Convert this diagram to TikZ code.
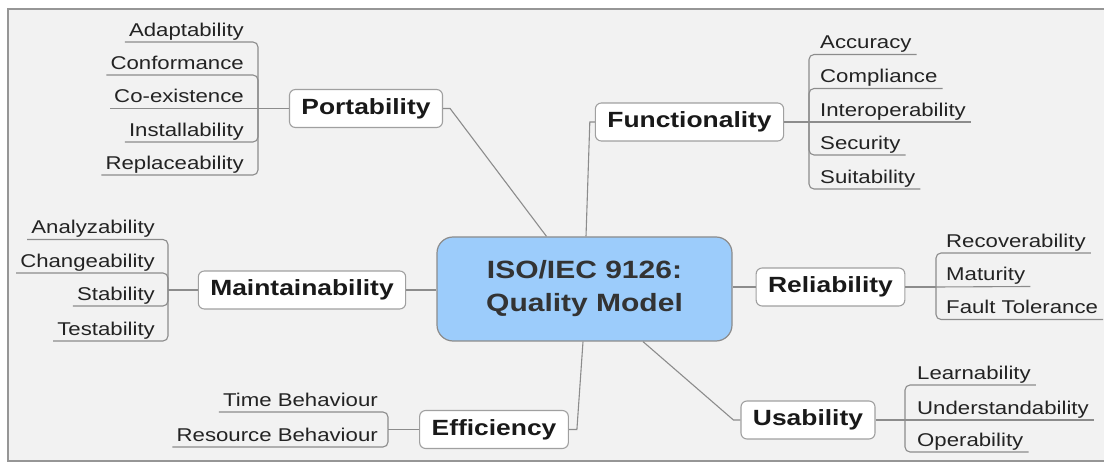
\documentclass[tikz,border=0pt]{standalone}
\usepackage{fontspec}
\setmainfont{Liberation Sans}[FakeStretch=1.2]
\definecolor{bgc}{RGB}{242,242,242}
\definecolor{framec}{RGB}{150,150,150}
\definecolor{linkc}{RGB}{140,140,140}
\definecolor{boxc}{RGB}{160,160,160}
\definecolor{centerfill}{RGB}{156,204,251}
\definecolor{leaftext}{RGB}{35,35,35}
\tikzset{
  link/.style={draw=linkc, line width=1.1pt},
  bracket/.style={link, rounded corners=5pt},
  branch/.style={draw=boxc, line width=1.1pt, fill=white, rounded corners=6pt,
    font=\bfseries\fontsize{22}{24}\selectfont, text=black!90,
    inner xsep=12pt, minimum height=38pt},
  centerbox/.style={draw=linkc, line width=1.2pt, fill=centerfill, rounded corners=16pt,
    font=\bfseries\fontsize{25}{33}\selectfont, text=black!80, align=center,
    minimum width=295pt, minimum height=104pt},
  leaf/.style={font=\fontsize{18.5}{20}\selectfont, text=leaftext, text depth=0pt,
    inner xsep=4pt, inner ysep=5.5pt},
  leafL/.style={leaf, anchor=south east},
  leafR/.style={leaf, anchor=south west, inner xsep=5pt},
}
\begin{document}
\begin{tikzpicture}[x=1pt, y=-1pt]
\useasboundingbox (0,0) rectangle (1104,462);
\fill[bgc] (8,9) rectangle (1104,461);
\draw[framec, line width=1.5pt] (1104,9) -- (8,9) -- (8,461) -- (1104,461);

% central and branch nodes
\node[centerbox] (c) at (584.5,289) {ISO/IEC 9126:\\Quality Model};
\node[branch] (port) at (366,108.5) {Portability};
\node[branch] (func) at (689.5,122) {Functionality};
\node[branch] (main) at (302,290) {Maintainability};
\node[branch] (eff) at (494,429.5) {Efficiency};
\node[branch] (rel) at (830.5,287) {Reliability};
\node[branch] (use) at (808,420) {Usability};

% connectors centre - branches
\draw[link] (port.east) -- ++(7,0) -- ([xshift=-38pt]c.north);
\draw[link] (func.west) -- ++(-5,0) -- ([xshift=1.5pt]c.north);
\draw[link] (main.east) -- (main.east -| c.west);
\draw[link] (eff.east) -- ++(8,0) -- ([xshift=-1.5pt]c.south);
\draw[link] (rel.west) -- (rel.west -| c.east);
\draw[link] (use.west) -- ++(-7,0) -- ([xshift=58.5pt]c.south);

% Portability
\coordinate (pj) at (258,108.5);
\draw[link] (port.west) -- (pj);
\node[leafL] (p1) at (248,42) {Adaptability};
\node[leafL] (p2) at (248,75) {Conformance};
\node[leafL] (p3) at (248,108.5) {Co-existence};
\node[leafL] (p4) at (248,142) {Installability};
\node[leafL] (p5) at (248,175) {Replaceability};
\draw[bracket] (pj) -- (pj |- p1.south east) -- (p1.south west);
\draw[bracket] (pj) -- (pj |- p2.south east) -- (p2.south west);
\draw[link] (pj) -- (p3.south west);
\draw[bracket] (pj) -- (pj |- p4.south east) -- (p4.south west);
\draw[bracket] (pj) -- (pj |- p5.south east) -- (p5.south west);

% Functionality
\coordinate (fj) at (809,122);
\draw[link] (func.east) -- (fj);
\node[leafR] (f1) at (815,54.5) {Accuracy};
\node[leafR] (f2) at (815,88.5) {Compliance};
\node[leafR] (f3) at (815,122) {Interoperability};
\node[leafR] (f4) at (815,155) {Security};
\node[leafR] (f5) at (815,189) {Suitability};
\draw[bracket] (fj) -- (fj |- f1.south west) -- (f1.south east);
\draw[bracket] (fj) -- (fj |- f2.south west) -- (f2.south east);
\draw[link] (fj) -- (f3.south east);
\draw[bracket] (fj) -- (fj |- f4.south west) -- (f4.south east);
\draw[bracket] (fj) -- (fj |- f5.south west) -- (f5.south east);

% Maintainability
\coordinate (mj) at (168,290);
\draw[link] (main.west) -- (mj);
\node[leafL] (m1) at (159,239.5) {Analyzability};
\node[leafL] (m2) at (159,273) {Changeability};
\node[leafL] (m3) at (159,306) {Stability};
\node[leafL] (m4) at (159,341) {Testability};
\draw[bracket] (mj) -- (mj |- m1.south east) -- (m1.south west);
\draw[bracket] (mj) -- (mj |- m2.south east) -- (m2.south west);
\draw[bracket] (mj) -- (mj |- m3.south east) -- (m3.south west);
\draw[bracket] (mj) -- (mj |- m4.south east) -- (m4.south west);

% Efficiency
\coordinate (ej) at (388,429.5);
\draw[link] (eff.west) -- (ej);
\node[leafL] (e1) at (382,412) {Time Behaviour};
\node[leafL] (e2) at (382,447) {Resource Behaviour};
\draw[bracket] (ej) -- (ej |- e1.south east) -- (e1.south west);
\draw[bracket] (ej) -- (ej |- e2.south east) -- (e2.south west);

% Reliability
\coordinate (rj) at (936,287);
\draw[link] (rel.east) -- (rj);
\node[leafR] (r1) at (941,253) {Recoverability};
\node[leafR] (r2) at (941,286.5) {Maturity};
\node[leafR] (r3) at (941,319.5) {Fault Tolerance};
\draw[bracket] (rj) -- (rj |- r1.south west) -- (r1.south east);
\draw[link] (rj) -- (r2.south east);
\draw[bracket] (rj) -- (rj |- r3.south west) -- (r3.south east);

% Usability
\coordinate (uj) at (905,420);
\draw[link] (use.east) -- (uj);
\node[leafR] (u1) at (912,385) {Learnability};
\node[leafR] (u2) at (912,420) {Understandability};
\node[leafR] (u3) at (912,452) {Operability};
\draw[bracket] (uj) -- (uj |- u1.south west) -- (u1.south east);
\draw[link] (uj) -- (u2.south east);
\draw[bracket] (uj) -- (uj |- u3.south west) -- (u3.south east);
\end{tikzpicture}
\end{document}
